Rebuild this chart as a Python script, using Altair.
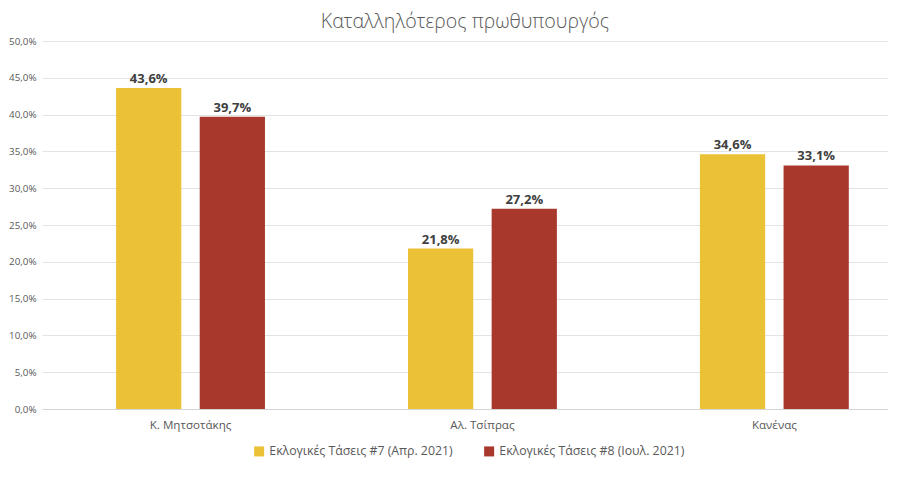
import altair as alt
import pandas as pd

categories = ["Κ. Μητσοτάκης", "Αλ. Τσίπρας", "Κανένας"]
series = ["Εκλογικές Τάσεις #7 (Απρ. 2021)", "Εκλογικές Τάσεις #8 (Ιουλ. 2021)"]
apr_values = [43.6, 21.8, 34.6]
jul_values = [39.7, 27.2, 33.1]
colors = ["#EBC136", "#A8382C"]
y_ticks = [0, 5, 10, 15, 20, 25, 30, 35, 40, 45, 50]

rows = []
for c, a, j in zip(categories, apr_values, jul_values):
    rows.append({"cat": c, "series": series[0], "value": a})
    rows.append({"cat": c, "series": series[1], "value": j})
df = pd.DataFrame(rows)

FONT = "Open Sans"
GREY = "#595959"

base = alt.Chart(df).encode(
    x=alt.X(
        "cat:N",
        sort=categories,
        scale=alt.Scale(paddingInner=0.49, paddingOuter=0.194, align=0.654),
        axis=alt.Axis(
            title=None, labelAngle=0, domain=False, ticks=False, grid=False,
            labelFontSize=11.6, labelColor=GREY, labelFont=FONT, labelPadding=10,
        ),
    ),
    xOffset=alt.XOffset("series:N", sort=series, scale=alt.Scale(paddingInner=0.22)),
    y=alt.Y(
        "value:Q",
        scale=alt.Scale(domain=[0, 50]),
        axis=alt.Axis(
            title=None, values=y_ticks, domain=False, ticks=False,
            labelExpr="replace(format(datum.value, '.1f'), '.', ',') + '%'",
            labelFontSize=9.8, labelColor=GREY, labelFont=FONT, labelPadding=6,
            gridColor={"condition": {"test": "datum.value === 0", "value": "#D4D4D4"},
                       "value": "#E3E3E3"},
        ),
    ),
)

bars = base.mark_bar().encode(
    color=alt.Color(
        "series:N",
        sort=series,
        scale=alt.Scale(domain=series, range=colors),
        legend=alt.Legend(
            title=None, orient="none", direction="horizontal",
            legendX=211, legendY=404,
            symbolType="square", symbolSize=100, symbolStrokeWidth=0,
            labelFontSize=12.3, labelColor=GREY, labelFont=FONT, labelOffset=4,
            labelLimit=400, columnPadding=30,
        ),
    )
)

labels = base.mark_text(
    dy=-9, fontWeight="bold", fontSize=13, color="#404040", font=FONT
).transform_calculate(
    label="replace(format(datum.value, '.1f'), '.', ',') + '%'"
).encode(text="label:N")

chart = (
    alt.layer(bars, labels)
    .properties(
        width=846,
        height=368,
        title=alt.TitleParams(
            "Καταλληλότερος πρωθυπουργός",
            fontSize=19.6, fontWeight=300, color=GREY, font=FONT, offset=3,
        ),
    )
    .configure(background="white",
               padding={"left": 0, "right": 0, "top": 4, "bottom": 0})
    .configure_view(stroke=None, strokeWidth=0)
)

chart.save("out.html", embed_options={"renderer": "svg", "actions": False})
